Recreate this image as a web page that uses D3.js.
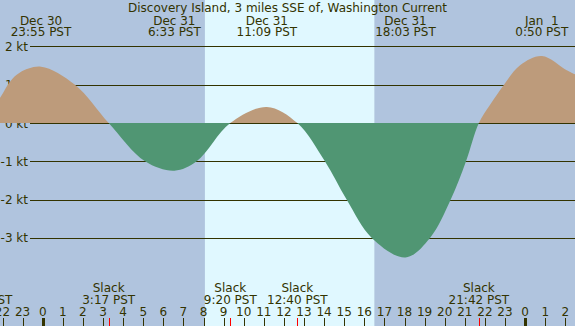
<!DOCTYPE html>
<html><head><meta charset="utf-8">
<script src="https://cdn.jsdelivr.net/npm/d3@7"></script>
<style>
html,body{margin:0;padding:0;background:#b0c4de;}
svg{display:block;}
text{font-family:"DejaVu Sans",sans-serif;fill:#333300;white-space:pre;}
</style></head><body>
<svg id="c" width="575" height="326"></svg>
<script>
// ---- data (hours relative to Dec 31 00:00 PST) ----
const title = "Discovery Island, 3 miles SSE of, Washington Current";
const curveHours = [-3.017, -2.12, -1.627, -1.13, -0.083, 1.607, 3.283, 5.09, 6.55, 7.66, 9.333, 11.15, 12.667, 14.04, 15.12, 16.37, 18.05, 19.27, 20.3, 21.06, 21.7, 22.25, 22.95, 23.75, 24.833, 26.07, 26.5];
const curveKnots = [0, 0.66, 1.08, 1.32, 1.47, 1.0, 0, -1.0, -1.245, -1.0, 0, 0.42, 0, -1, -2, -3, -3.51, -3, -2, -1, 0, 0.47, 1.0, 1.51, 1.75, 1.38, 1.27];
const peakHours = [-0.083, 6.55, 11.15, 18.05, 24.833];
const peakDays = ["Dec 30", "Dec 31", "Dec 31", "Dec 31", "Jan  1"];
const peakTimes = ["23:55 PST", "6:33 PST", "11:09 PST", "18:03 PST", "0:50 PST"];
const slackHours = [-3.017, 3.283, 9.333, 12.667, 21.7];
const slackTimes = ["20:59 PST", "3:17 PST", "9:20 PST", "12:40 PST", "21:42 PST"];
const daylight = [8.07, 16.5];
const yTicks = [2, 1, 0, -1, -2, -3];
const hourTicks = d3.range(-2, 27);

const W = 575, H = 326;
const svg = d3.select("#c");
const x = d3.scaleLinear().domain([0, 24]).range([42.7, 525.1]);
const y = d3.scaleLinear().domain([0, 2]).range([123, 46.4]);

// background
svg.append("rect").attr("width", W).attr("height", H).attr("fill", "#b0c4de");
svg.append("rect").attr("x", x(daylight[0])).attr("y", 0)
  .attr("width", x(daylight[1]) - x(daylight[0])).attr("height", H).attr("fill", "#e0f8ff");

// grid lines
svg.append("g").selectAll("line").data(yTicks).join("line")
  .attr("x1", 30).attr("x2", W)
  .attr("y1", d => Math.round(y(d)) + 0.5).attr("y2", d => Math.round(y(d)) + 0.5)
  .attr("stroke", "#333300").attr("stroke-width", 1);
svg.append("g").selectAll("text").data(yTicks).join("text")
  .attr("x", 28).attr("y", d => y(d) + 4.5).attr("text-anchor", "end")
  .attr("font-size", 12).text(d => d + " kt");

// curve
const pts = curveHours.map((h, i) => [h, curveKnots[i]]);
const area = d3.area().x(d => x(d[0])).y0(y(0)).y1(d => y(d[1])).curve(d3.curveCatmullRom.alpha(0.5));
const defs = svg.append("defs");
defs.append("clipPath").attr("id", "pos").append("rect").attr("x", 0).attr("y", 0).attr("width", W).attr("height", y(0));
defs.append("clipPath").attr("id", "neg").append("rect").attr("x", 0).attr("y", y(0)).attr("width", W).attr("height", H);
svg.append("path").datum(pts).attr("d", area).attr("fill", "#bd9b7b").attr("clip-path", "url(#pos)");
svg.append("path").datum(pts).attr("d", area).attr("fill", "#509673").attr("clip-path", "url(#neg)");

// title and peak labels
svg.append("text").attr("x", W / 2).attr("y", 11.5).attr("text-anchor", "middle").attr("font-size", 12).text(title);
const pk = svg.append("g").selectAll("g").data(peakHours).join("g");
pk.append("text").attr("x", d => x(d)).attr("y", 24.5).attr("text-anchor", "middle").attr("font-size", 12).text((d, i) => peakDays[i]);
pk.append("text").attr("x", d => x(d)).attr("y", 36).attr("text-anchor", "middle").attr("font-size", 12).text((d, i) => peakTimes[i]);

// slack labels
const sl = svg.append("g").selectAll("g").data(slackHours).join("g");
sl.append("text").attr("x", d => x(d)).attr("y", 292).attr("text-anchor", "middle").attr("font-size", 12).text("Slack");
sl.append("text").attr("x", d => x(d)).attr("y", 304).attr("text-anchor", "middle").attr("font-size", 12).text((d, i) => slackTimes[i]);

// hour axis
svg.append("g").selectAll("text").data(hourTicks).join("text")
  .attr("x", d => x(d)).attr("y", 316).attr("text-anchor", "middle").attr("font-size", 12)
  .text(d => ((d % 24) + 24) % 24);
svg.append("g").selectAll("line").data(hourTicks).join("line")
  .attr("x1", d => Math.round(x(d)) + 0.5).attr("x2", d => Math.round(x(d)) + 0.5)
  .attr("y1", 318).attr("y2", H)
  .attr("stroke", "#333300").attr("stroke-width", d => (((d % 24) + 24) % 24) === 0 ? 3 : 1);
svg.append("g").selectAll("line").data(slackHours).join("line")
  .attr("x1", d => Math.round(x(d)) + 0.5).attr("x2", d => Math.round(x(d)) + 0.5)
  .attr("y1", 318).attr("y2", H).attr("stroke", "#ff0000").attr("stroke-width", 1);
</script></body></html>
